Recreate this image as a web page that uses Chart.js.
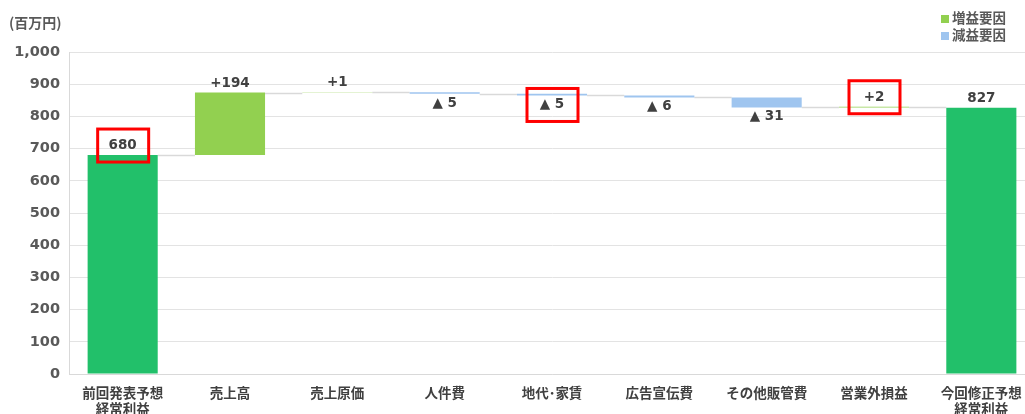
<!DOCTYPE html>
<html lang="ja">
<head>
<meta charset="utf-8">
<script src="https://cdn.jsdelivr.net/npm/chart.js@4/dist/chart.umd.min.js"></script>
<style>
  html, body { margin: 0; padding: 0; background: #fff; overflow: hidden; }
  #wrap { position: relative; width: 1025px; height: 414px; overflow: hidden; }
  #chart { position: absolute; left: 0; top: 0; }
  .unit { position: absolute; left: 9px; top: 12px; font: bold 14px "Noto Sans CJK JP"; color: #595959; }
  .legend { position: absolute; left: 941px; top: 9px; font: bold 13.5px "Noto Sans CJK JP"; color: #595959; line-height: 17px; }
  .legend span { display: inline-block; width: 8px; height: 8px; margin-right: 3px; vertical-align: 0px; }
</style>
</head>
<body>
<div id="wrap">
  <canvas id="chart" width="1035" height="414"></canvas>
  <div class="unit">(百万円)</div>
  <div class="legend">
    <div><span style="background:#92d050"></span>増益要因</div>
    <div><span style="background:#9fc5ef"></span>減益要因</div>
  </div>
</div>
<script>
// 項目
const labels = [
  ["前回発表予想", "経常利益"], "売上高", "売上原価", "人件費", "地代･家賃",
  "広告宣伝費", "その他販管費", "営業外損益", ["今回修正予想", "経常利益"]
];
// 増減額 (最初と最後は合計)
const changes = [680, 194, 1, -5, -5, -6, -31, 2, 827];
const kinds = ["total", "step", "step", "step", "step", "step", "step", "step", "total"];
// 赤枠で囲む項目
const highlighted = [0, 4, 7];

const COLOR_TOTAL = "#22c06a";
const COLOR_UP = "#92d050";
const COLOR_DOWN = "#9fc5ef";

// 棒の始点・終点を計算
const bars = [];
let running = 0;
changes.forEach((v, i) => {
  if (kinds[i] === "total") {
    bars.push([0, v]);
    running = v;
  } else {
    bars.push([running, running + v]);
    running += v;
  }
});
const colors = changes.map((v, i) =>
  kinds[i] === "total" ? COLOR_TOTAL : v >= 0 ? COLOR_UP : COLOR_DOWN
);

function labelText(i) {
  const v = changes[i];
  if (kinds[i] === "total") return String(v);
  return v >= 0 ? "+" + v : "▲ " + Math.abs(v);
}

// 連結線・数値ラベル・赤枠
const waterfallPlugin = {
  id: "waterfall",
  beforeDatasetsDraw(chart) {
    const ctx = chart.ctx;
    const meta = chart.getDatasetMeta(0);
    const y = chart.scales.y;
    ctx.save();
    ctx.strokeStyle = "#d9d9d9";
    ctx.lineWidth = 1.5;
    for (let i = 0; i < meta.data.length - 1; i++) {
      const a = meta.data[i], b = meta.data[i + 1];
      const py = Math.round(y.getPixelForValue(bars[i][1])) + 0.5;
      ctx.beginPath();
      ctx.moveTo(a.x + a.width / 2, py);
      ctx.lineTo(b.x - b.width / 2, py);
      ctx.stroke();
    }
    ctx.restore();
  },
  afterDatasetsDraw(chart) {
    const ctx = chart.ctx;
    const meta = chart.getDatasetMeta(0);
    const y = chart.scales.y;
    ctx.save();
    ctx.font = "bold 13.5px 'DejaVu Sans'";
    ctx.fillStyle = "#404040";
    ctx.textAlign = "center";
    ctx.textBaseline = "middle";
    meta.data.forEach((bar, i) => {
      const top = y.getPixelForValue(Math.max(bars[i][0], bars[i][1]));
      const bottom = y.getPixelForValue(Math.min(bars[i][0], bars[i][1]));
      const ly = changes[i] >= 0 ? top - 9.5 : bottom + 9.5;
      const lx = bar.x;
      ctx.fillText(labelText(i), lx, ly);
      if (highlighted.includes(i)) {
        ctx.strokeStyle = "#ff0000";
        ctx.lineWidth = 3;
        ctx.strokeRect(lx - 25, ly - 16.5, 51, 33);
      }
    });
    ctx.restore();
  }
};

new Chart(document.getElementById("chart"), {
  type: "bar",
  data: {
    labels,
    datasets: [{
      data: bars,
      backgroundColor: colors,
      borderWidth: 0,
      barPercentage: 0.653,
      categoryPercentage: 1
    }]
  },
  options: {
    responsive: false,
    animation: false,
    devicePixelRatio: 1,
    layout: { padding: { top: 52, left: 0, right: 0, bottom: 0 } },
    plugins: {
      legend: { display: false },
      tooltip: { enabled: false }
    },
    scales: {
      x: {
        grid: { display: false },
        border: { display: true, color: "#d9d9d9", width: 1 },
        ticks: {
          color: "#404040",
          font: { family: "Noto Sans CJK JP", size: 13.5, weight: "bold", lineHeight: 1.2 },
          padding: 3,
          maxRotation: 0,
          autoSkip: false
        },
        afterFit(scale) { scale.height = 40; }
      },
      y: {
        min: 0,
        max: 1000,
        grid: { color: "#e3e3e3", lineWidth: 1, drawTicks: false },
        border: { display: true, color: "#d9d9d9", width: 1 },
        ticks: {
          stepSize: 100,
          color: "#595959",
          font: { family: "DejaVu Sans", size: 14.5, weight: "bold" },
          padding: 9,
          callback: (v) => v.toLocaleString("en-US")
        },
        afterFit(scale) { scale.width = 69; }
      }
    }
  },
  plugins: [waterfallPlugin]
});
</script>
</body>
</html>
